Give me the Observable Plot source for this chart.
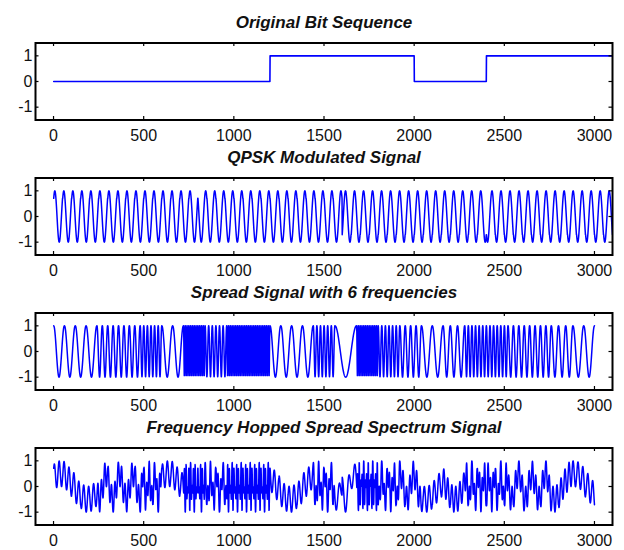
<!DOCTYPE html>
<html><head><meta charset="utf-8">
<script src="https://cdn.jsdelivr.net/npm/d3@7"></script>
<script src="https://cdn.jsdelivr.net/npm/@observablehq/plot@0.6"></script>
<style>
body{margin:0;background:#fff;width:624px;height:550px;overflow:hidden;font-family:"Liberation Sans",Arial,sans-serif}
#chart{position:relative;width:624px;height:550px}
#chart svg{position:absolute;left:0;overflow:visible;background:transparent}
</style></head><body><div id="chart"></div>
<script>
// ---- data ----
const titles = ["Original Bit Sequence", "QPSK Modulated Signal", "Spread Signal with 6 frequencies", "Frequency Hopped Spread Spectrum Signal"];
const bits = [0, 0, 0, 1, 1, 0, 1, 1];            // one bit per 400 samples
const samplesPerBit = 400;
const carrierSamples = 50;                         // QPSK carrier: samples per cycle
const hopSamples = [60, 60, 30, 30, 20, 60, 10, 20, 10, 10, 60, 60, 20, 120, 10, 20, 30, 60, 40, 20, 20, 30, 30, 40, 60]; // samples per cycle of each hop
const hopLength = 120;                             // samples per hop
const xTicks = [0, 500, 1000, 1500, 2000, 2500, 3000];
const xTickLabels = ["0", "500", "1000", "1500", "2000", "2500", "3000"];
const yTicks = [-1, 0, 1];
const yTickLabels = ["-1", "0", "1"];

// ---- series built from the values above ----
const nBits = bits.length * samplesPerBit;
const bitSeries = [], qpskSeries = [], spreadSeries = [], fhSeries = [];
for (let n = 0; n < nBits; n++) {
  bitSeries.push({x: n + 1, y: bits[Math.floor(n / samplesPerBit)]});
  const k = Math.floor(n / (2 * samplesPerBit));
  const I = 1 - 2 * bits[2 * k], Q = 1 - 2 * bits[2 * k + 1];
  const ph = 2 * Math.PI * (n % carrierSamples) / (carrierSamples - 1);
  qpskSeries.push({x: n + 1, y: (I * Math.cos(ph) + Q * Math.sin(ph)) / Math.SQRT2});
}
for (let n = 0; n < hopSamples.length * hopLength; n++) {
  const p = hopSamples[Math.floor(n / hopLength)];
  const v = Math.cos(2 * Math.PI * ((n % hopLength) % p) / (p - 1));
  spreadSeries.push({x: n + 1, y: v});
  fhSeries.push({x: n + 1, y: v * qpskSeries[n].y});
}
const seriesList = [bitSeries, qpskSeries, spreadSeries, fhSeries];

const font = "Liberation Sans, Arial, Helvetica, sans-serif";
const chart = document.getElementById("chart");
seriesList.forEach((series, i) => {
  const svg = Plot.plot({
    width: 624, height: 145,
    marginLeft: 35, marginRight: 12, marginTop: 42.5, marginBottom: 25.5,
    x: {domain: [-100, 3100], axis: null},
    y: {domain: [-1.5, 1.5], axis: null},
    style: {background: "transparent", overflow: "visible", fontFamily: font},
    marks: [
      Plot.line(series, {x: "x", y: "y", stroke: "#0000ff", strokeWidth: i === 0 ? 1.6 : 1.5, clip: true}),
      Plot.ruleX(xTicks, {x: d => d, insetTop: 73.5, stroke: "#000", strokeWidth: 1.2}),
      Plot.ruleX(xTicks, {x: d => d, insetBottom: 73.5, stroke: "#000", strokeWidth: 1.2}),
      Plot.ruleY(yTicks, {y: d => d, insetRight: 573.5, stroke: "#000", strokeWidth: 1.2}),
      Plot.ruleY(yTicks, {y: d => d, insetLeft: 573.5, stroke: "#000", strokeWidth: 1.2}),
      Plot.frame({stroke: "#000", strokeWidth: 2}),
      Plot.text(xTicks, {x: d => d, text: (d, j) => xTickLabels[j], frameAnchor: "bottom", lineAnchor: "top", dy: 10, fontSize: 16, fill: "#111"}),
      Plot.text(yTicks, {y: d => d, text: (d, j) => yTickLabels[j], frameAnchor: "left", textAnchor: "end", dx: -3, fontSize: 16, fill: "#111"}),
      Plot.text([titles[i]], {text: d => d, frameAnchor: "top", lineAnchor: "bottom", dy: -15.5, fontSize: 17, fontWeight: "bold", fontStyle: "italic", fill: "#111"})
    ]
  });
  svg.style.top = (135 * i) + "px";
  chart.appendChild(svg);
});
</script>
</body></html>
